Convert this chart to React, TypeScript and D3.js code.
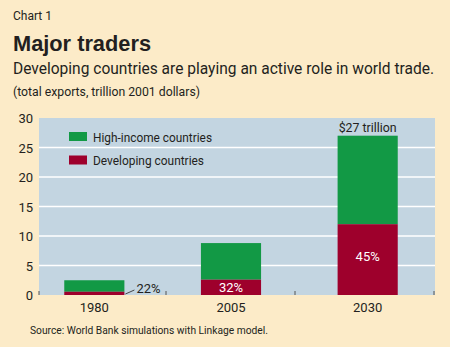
import React from "react";
import * as d3 from "d3";

const years = ["1980", "2005", "2030"];
const developing = [0.55, 2.6, 12];
const highIncome = [1.95, 6.2, 15];
const shareLabels = ["22%", "32%", "45%"];
const yTicks = [0, 5, 10, 15, 20, 25, 30];
const seriesNames = ["High-income countries", "Developing countries"];
const legendWidths = [119, 111];

const W = 450, H = 347;
const BG = "#fcebc8";
const PLOT = "#c3d5e1";
const GREEN = "#129945";
const RED = "#9e002c";
const FONT = "'Liberation Sans Narrow', 'Roboto', 'Liberation Sans', sans-serif";

export default function App() {
  const left = 39, right = 435, top = 118, bottom = 295;
  const y = d3.scaleLinear().domain([0, 30]).range([bottom, top]);
  const x = d3.scaleBand().domain(years).range([26, 436]).paddingInner(0.56).paddingOuter(0.28);
  const bw = x.bandwidth();
  const stacked = years.map((yr, i) => ({ yr, dev: developing[i], hi: highIncome[i], total: developing[i] + highIncome[i] }));
  const sepTicks = [left, 166, 295, 434];

  return (
    <svg width={W} height={H} style={{ position: "absolute", left: 0, top: 0, display: "block" }} fontFamily={FONT}>
      <rect x={0} y={0} width={W} height={H} fill={BG} />
      <text x={13} y={20} fontSize={12} fill="#231f20">Chart 1</text>
      <text x={13} y={51} fontSize={22} fontWeight="bold" fill="#231f20" fontFamily="'Liberation Sans', 'Roboto', sans-serif" textLength={138} lengthAdjust="spacingAndGlyphs">Major traders</text>
      <text x={13} y={74} fontSize={16} fill="#231f20" textLength={421} lengthAdjust="spacingAndGlyphs">Developing countries are playing an active role in world trade.</text>
      <text x={13} y={96} fontSize={12} fill="#231f20" textLength={187} lengthAdjust="spacingAndGlyphs">(total exports, trillion 2001 dollars)</text>

      <rect x={left} y={top} width={right - left} height={bottom - top} fill={PLOT} />
      {yTicks.filter(t => t > 0 && t < 30).map(t => (
        <line key={t} x1={left} x2={right} y1={y(t)} y2={y(t)} stroke="#ffffff" strokeWidth={1.6} />
      ))}
      {yTicks.map(t => (
        <text key={t} x={33} y={y(t) + 5} fontSize={13} textAnchor="end" fill="#231f20">{t}</text>
      ))}

      {stacked.map((d, i) => (
        <g key={d.yr}>
          <rect x={x(d.yr)} y={y(d.total)} width={bw} height={y(d.dev) - y(d.total)} fill={GREEN} />
          <rect x={x(d.yr)} y={y(d.dev)} width={bw} height={bottom - y(d.dev)} fill={RED} />
          <text x={(x(d.yr) as number) + bw / 2} y={312} fontSize={13} textAnchor="middle" fill="#231f20">{d.yr}</text>
        </g>
      ))}

      {sepTicks.map((sx, i) => (
        <line key={i} x1={sx} x2={sx} y1={bottom} y2={bottom - 4} stroke="#555" strokeWidth={1} />
      ))}

      {/* share labels */}
      <line x1={(x("1980") as number) + bw + 1} y1={bottom - 1} x2={(x("1980") as number) + bw + 10} y2={bottom - 5} stroke="#231f20" strokeWidth={0.8} />
      <text x={(x("1980") as number) + bw + 12} y={293} fontSize={13} fill="#231f20" textLength={24} lengthAdjust="spacingAndGlyphs">{shareLabels[0]}</text>
      <text x={(x("2005") as number) + bw / 2} y={292} fontSize={13} textAnchor="middle" fill="#ffffff">{shareLabels[1]}</text>
      <text x={(x("2030") as number) + bw / 2} y={(y(developing[2]) + bottom) / 2 + 1} fontSize={13} textAnchor="middle" fill="#ffffff">{shareLabels[2]}</text>
      <text x={(x("2030") as number) + bw / 2} y={y(developing[2] + highIncome[2]) - 4} fontSize={13} textAnchor="middle" fill="#231f20" textLength={58} lengthAdjust="spacingAndGlyphs">$27 trillion</text>

      {/* legend */}
      {seriesNames.map((n, i) => (
        <g key={n}>
          <rect x={69} y={132 + i * 23.5} width={18} height={9} fill={i === 0 ? GREEN : RED} />
          <text x={93} y={141.5 + i * 23.5} fontSize={13} fill="#231f20" textLength={legendWidths[i]} lengthAdjust="spacingAndGlyphs">{n}</text>
        </g>
      ))}

      <text x={30} y={334} fontSize={11} fill="#231f20" textLength={238} lengthAdjust="spacingAndGlyphs">Source: World Bank simulations with Linkage model.</text>
    </svg>
  );
}
